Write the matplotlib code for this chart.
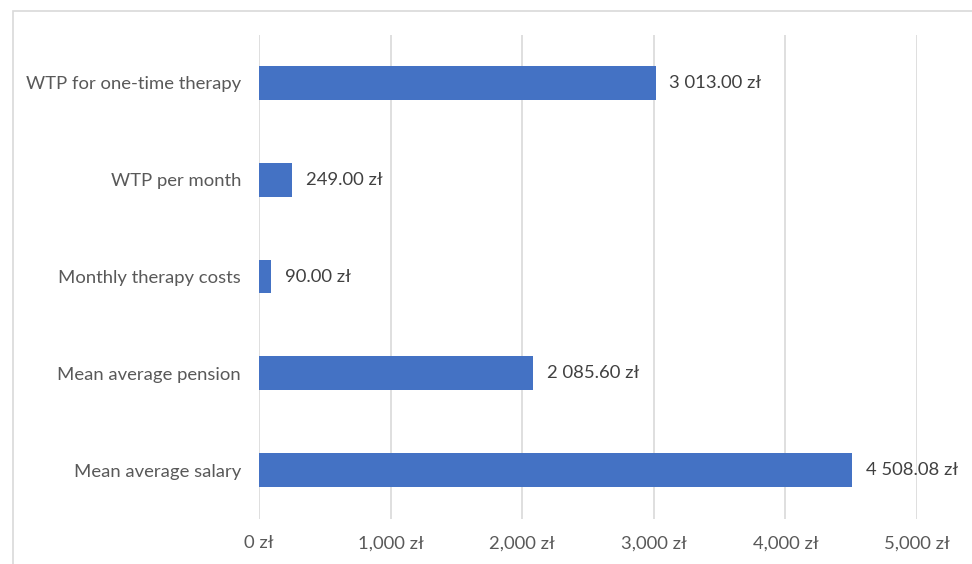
import matplotlib.pyplot as plt
from matplotlib.patches import Rectangle

categories = ["WTP for one-time therapy", "WTP per month", "Monthly therapy costs",
              "Mean average pension", "Mean average salary"]
values = [3013.00, 249.00, 90.00, 2085.60, 4508.08]
ticks = [0, 1000, 2000, 3000, 4000, 5000]
tick_labels = ["0 zł", "1,000 zł", "2,000 zł", "3,000 zł", "4,000 zł", "5,000 zł"]


def pl_money(v):
    # polish-style thousands separator (space)
    s = f"{v:,.2f}".replace(",", " ")
    return s + " zł"


plt.rcParams['font.family'] = ['Lato', 'DejaVu Sans']
FS = 13.3

fig = plt.figure(figsize=(9.72, 5.64), dpi=100)
ax = fig.add_axes([259/972, 1 - 518.5/564, (917 - 259)/972, (518.5 - 34.5)/564])

# outer chart border like the spreadsheet chart frame
fig.patches.append(Rectangle((12.5/972, -0.05), 1.0, 1 - 10.5/564 + 0.05,
                             transform=fig.transFigure, fill=False,
                             edgecolor='#d9d9d9', linewidth=1.2))

y = list(range(len(categories)))
ax.barh(y, values, height=0.35, color='#4472C4', zorder=3)
for yi, v in zip(y, values):
    ax.text(v + 105, yi, pl_money(v), va='center', ha='left',
            fontsize=FS, color='#404040')

ax.set_ylim(len(categories) - 0.5, -0.5)
ax.set_xlim(0, 5000)
ax.set_yticks(y)
ax.set_yticklabels(categories, fontsize=FS, color='#595959')
ax.set_xticks(ticks)
ax.set_xticklabels(tick_labels, fontsize=FS, color='#595959')
ax.tick_params(axis='both', length=0)
ax.tick_params(axis='y', pad=13)
ax.tick_params(axis='x', pad=12)
ax.grid(axis='x', color='#d9d9d9', linewidth=1.2, zorder=0)
for s in ax.spines.values():
    s.set_visible(False)

fig.savefig("out.png", dpi=100)
